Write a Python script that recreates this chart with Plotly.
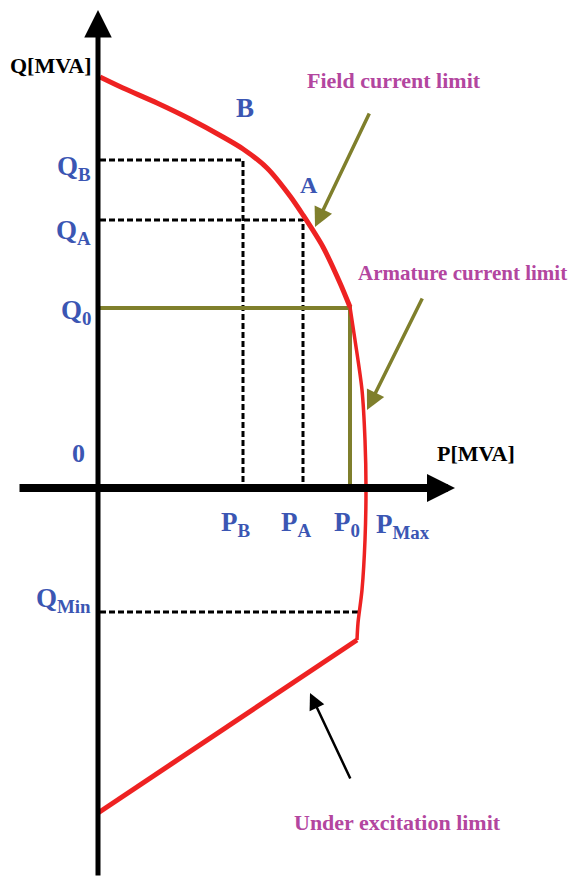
"""
Generator capability curve (P-Q diagram) drawn with plotly.
"""

import plotly.graph_objects as go

# Field current limit arc, P and Q in MVA (drawing units)
field_p = [2, 25, 59, 92, 125, 145, 169, 192, 205, 225, 242, 252]
field_q = [411, 400, 385, 369, 351, 339, 320, 292, 273, 241, 205, 181]

# Armature current limit
armature_p = [252, 257, 264, 267, 268, 267, 264, 260, 259]
armature_q = [181, 148, 98, 48, 0, -52, -102, -135, -152]

# Under excitation limit
under_p = [259, 0]
under_q = [-152, -325]

# Operating points
P_B, Q_B = 145, 328
P_A, Q_A = 205, 268
P_0, Q_0 = 252, 180
P_MAX = 268
Q_MIN = -124

RED = "#ee2222"
OLIVE = "#7f7f2c"
BLUE = "#3b56b3"
MAGENTA = "#b3469f"
FONT = "Liberation Serif"


def line(x, y, color, width, dash="solid", shape="linear"):
    return go.Scatter(x=x, y=y, mode="lines", hoverinfo="skip",
                      line=dict(color=color, width=width, dash=dash, shape=shape, smoothing=0.8))


def arrow(tail, tip, color, width, size=1.0, head=2):
    return dict(x=tip[0], y=tip[1], ax=tail[0], ay=tail[1], xref="x", yref="y", axref="x", ayref="y",
                text="", showarrow=True, arrowhead=head, arrowsize=size, arrowwidth=width,
                arrowcolor=color, standoff=0)


def label(x, y, text, color, size, anchor="center"):
    return dict(x=x, y=y, xref="x", yref="y", text=text, showarrow=False, xanchor=anchor,
                yanchor="middle", font=dict(family=FONT, size=size, color=color, weight="bold"))


dash = "6px,3px"
data = [
    line([2, P_B, P_B], [Q_B, Q_B, 0], "black", 3, dash),
    line([2, P_A, P_A], [Q_A, Q_A, 0], "black", 3, dash),
    line([2, P_MAX - 8], [Q_MIN, Q_MIN], "black", 3, dash),
    line([2, P_0, P_0], [Q_0, Q_0, 0], OLIVE, 4),
    line(field_p, field_q, RED, 5, shape="spline"),
    line(armature_p, armature_q, RED, 3.5, shape="spline"),
    line(under_p, under_q, RED, 5),
]

annotations = [
    # axes
    arrow((0, -389), (0, 478), "black", 5, 1.1),
    arrow((-80, 0), (357, 0), "black", 8, 0.7),
    # pointers
    arrow((272, 376), (217, 261), OLIVE, 3.5, 1.1),
    arrow((325, 191), (269, 78), OLIVE, 3.5, 1.1),
    arrow((253, -292), (212, -205), "black", 2.5, 1.3),
    # axis titles
    label(-48, 423, "Q[MVA]", "black", 22),
    label(378, 35, "P[MVA]", "black", 22),
    # blue labels
    label(-20, 35, "0", BLUE, 26),
    label(147, 380, "B", BLUE, 27),
    label(211, 303, "A", BLUE, 24),
    label(-5, 320, "Q<sub>B</sub>", BLUE, 27, "right"),
    label(-5, 256, "Q<sub>A</sub>", BLUE, 27, "right"),
    label(-5, 176, "Q<sub>0</sub>", BLUE, 27, "right"),
    label(-5, -112, "Q<sub>Min</sub>", BLUE, 27, "right"),
    label(138, -36, "P<sub>B</sub>", BLUE, 27),
    label(198, -36, "P<sub>A</sub>", BLUE, 27),
    label(249, -36, "P<sub>0</sub>", BLUE, 27),
    label(276, -38, "P<sub>Max</sub>", BLUE, 27, "left"),
    # limit names
    label(296, 408, "Field current limit", MAGENTA, 22),
    label(364, 215, "Armature current limit", MAGENTA, 21),
    label(299, -334, "Under excitation limit", MAGENTA, 22),
]

# the page body adds an 8px margin, so the ranges are shifted to keep the drawing in place
layout = go.Layout(
    width=579,
    height=877,
    margin=dict(l=0, r=0, t=0, b=0),
    paper_bgcolor="white",
    plot_bgcolor="white",
    showlegend=False,
    xaxis=dict(range=[-90, 489], visible=False, fixedrange=True),
    yaxis=dict(range=[-397, 480], visible=False, fixedrange=True),
    annotations=annotations,
)

fig = go.Figure(data=data, layout=layout)
fig.write_html("out.html")
